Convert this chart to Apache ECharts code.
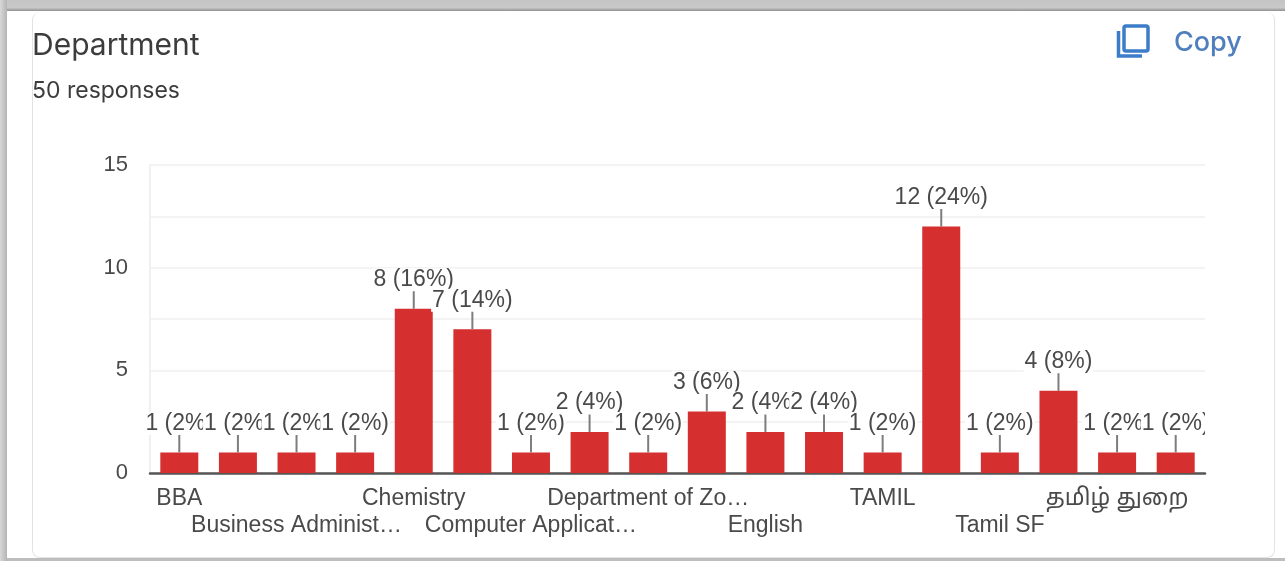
<!DOCTYPE html>
<html><head><meta charset="utf-8">
<style>
html,body{margin:0;padding:0;width:1285px;height:561px;overflow:hidden;background:#fff}
#top{position:absolute;left:0;top:0;width:1285px;height:11px;background:linear-gradient(#c4c4c4,#c9c9c9 70%,#8f8f8f)}
#left{position:absolute;left:0;top:0;width:7px;height:561px;background:linear-gradient(90deg,#d8d8d8,#b4b4b4)}
#card{position:absolute;left:32px;top:12px;width:1243px;height:546px;border:1px solid #e2e2e2;border-top:none;border-radius:8px;box-sizing:border-box}
#bottom{position:absolute;left:7px;top:558px;width:1278px;height:3px;background:#bdbdbd}
#c{position:absolute;left:0;top:0;width:1285px;height:561px}
</style></head>
<body>
<div id="top"></div><div id="left"></div><div id="card"></div><div id="bottom"></div>
<div id="c"></div>
<script src="https://cdn.jsdelivr.net/npm/echarts@6/dist/echarts.min.js"></script>
<script>
const categories = ['BBA','','Business Administ…','','Chemistry','','Computer Applicat…','','Department of Zo…','','English','','TAMIL','','Tamil SF','','தமிழ் துறை',''];
const counts = [1,1,1,1,8,7,1,2,1,3,2,2,1,12,1,4,1,1];
const yTicks = [0,5,10,15];
const totalResponses = 50;
const titleText = 'Department';
const subtitleText = totalResponses + ' responses';
const FONT = '"Liberation Sans", Arial, "Noto Sans Tamil", sans-serif';
const TEXT = '#4a4a4a';
const chart = echarts.init(document.getElementById('c'), null, {renderer:'canvas'});
chart.setOption({
  backgroundColor:'transparent',
  animation:false,
  title:[
    {text:titleText,left:32,top:31,padding:0,textStyle:{fontFamily:'Inter',fontWeight:400,fontSize:30,color:'#3c3c3c'}},
    {text:subtitleText,left:32,top:80,padding:0,textStyle:{fontFamily:'Inter',fontWeight:400,fontSize:23,color:'#3c3c3c'}}
  ],
  grid:{left:150,right:80,top:165,bottom:88,containLabel:false},
  xAxis:{type:'category',data:categories,
    axisLine:{lineStyle:{color:'#555',width:2.5}},axisTick:{show:false},
    splitLine:{show:false},
    axisLabel:{interval:0,margin:12,hideOverlap:false,fontFamily:FONT,fontSize:23,color:TEXT,lineHeight:27,verticalAlign:'top',
      formatter:(v,i)=> i%4===2 ? '\n'+v : v}},
  yAxis:{type:'value',min:0,max:15,interval:2.5,
    axisLine:{show:true,lineStyle:{color:'#f0f0f0',width:2}},axisTick:{show:false},
    splitLine:{show:true,lineStyle:{color:'#f3f3f3',width:2}},
    axisLabel:{margin:22,fontFamily:FONT,fontSize:22,color:TEXT,padding:[7,0,0,0],
      formatter:v=> yTicks.includes(v) ? String(v) : ''}},
  series:[
    {type:'bar',data:counts,barWidth:38,z:3,itemStyle:{color:'#d62f2f'},silent:true},
    {type:'custom',z:4,clip:false,silent:true,data:counts,
      renderItem:(params,api)=>{
        const v=api.value(1), p=api.coord([api.value(0),v]);
        return {type:'group',children:[
          {type:'line',shape:{x1:p[0],y1:p[1],x2:p[0],y2:p[1]-19},style:{stroke:'#7d7d7d',lineWidth:2}},
          {type:'text',x:p[0],y:p[1]-29,style:{text:v+' ('+(v*100/totalResponses)+'%)',
            fontFamily:FONT,fontSize:23,fill:TEXT,align:'center',verticalAlign:'middle',
            backgroundColor:'#fff',padding:[0,1]}}
        ]};
      },
      encode:{x:0,y:1}}
  ],
  graphic:[
    {type:'rect',z:100,shape:{x:1205,y:405,width:14,height:36},style:{fill:'#fff'}},
    {type:'rect',z:100,shape:{x:1124,y:26,width:24,height:25,r:2},style:{fill:'none',stroke:'#3d7cc9',lineWidth:3.5}},
    {type:'polyline',z:100,shape:{points:[[1118.5,31],[1118.5,56],[1142,56]]},style:{fill:'none',stroke:'#3d7cc9',lineWidth:3.5}},
    {type:'text',z:100,x:1174,y:29,style:{text:'Copy',fontFamily:'Inter',fontWeight:500,fontSize:27,fill:'#4f7fbd'}}
  ]
});
</script>
</body></html>
